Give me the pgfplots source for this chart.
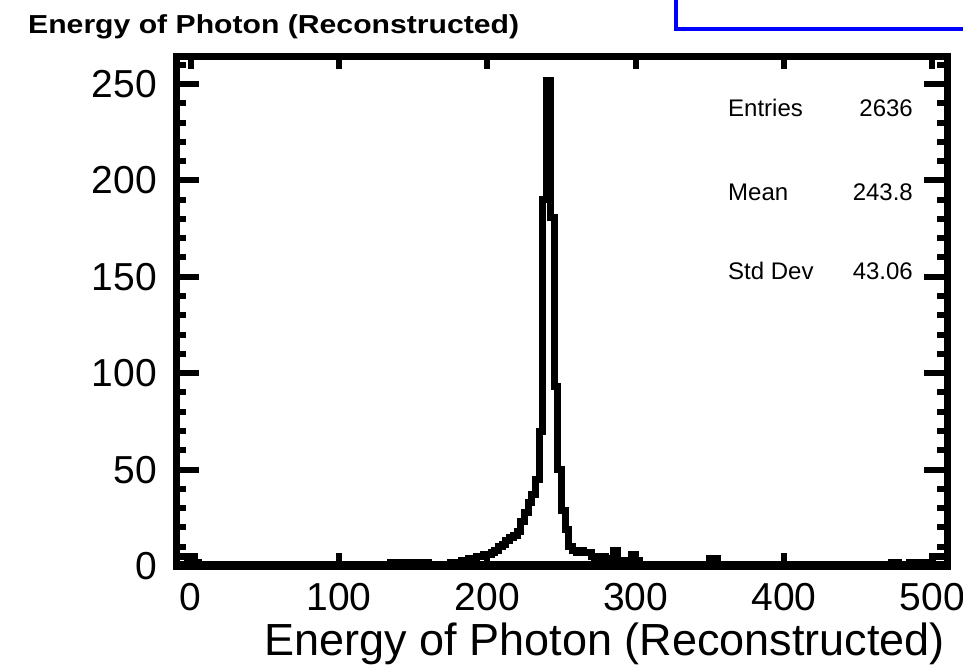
\documentclass[border=0pt]{standalone}
\usepackage{graphicx}
\usepackage{fontspec}
\setmainfont{Liberation Sans}
\usepackage{pgfplots}
\usepackage{pgfplotstable}
\pgfplotsset{compat=1.18}

\pgfplotstableread{
x y
-10 5
-7.5 5
-5 5
-2.5 2
0 5
2.5 2
5 0
7.5 0
10 0
12.5 0
15 0
17.5 0
20 0
22.5 0
25 0
27.5 0
30 0
32.5 0
35 0
37.5 0
40 0
42.5 1
45 0
47.5 0
50 0
52.5 0
55 0
57.5 0
60 0
62.5 0
65 0
67.5 0
70 0
72.5 0
75 0
77.5 0
80 0
82.5 0
85 0
87.5 1
90 0
92.5 0
95 0
97.5 0
100 0
102.5 0
105 0
107.5 0
110 0
112.5 0
115 0
117.5 0
120 1
122.5 0
125 0
127.5 0
130 1
132.5 1
135 2
137.5 2
140 2
142.5 2
145 2
147.5 2
150 1
152.5 2
155 2
157.5 2
160 1
162.5 1
165 0
167.5 1
170 1
172.5 1
175 2
177.5 2
180 2
182.5 3
185 3
187.5 4
190 4
192.5 5
195 5
197.5 6
200 6
202.5 7
205 8
207.5 10
210 11
212.5 13
215 15
217.5 16
220 18
222.5 23
225 28
227.5 33
230 37
232.5 45
235 70
237.5 190
240 252
242.5 181
245 93
247.5 50
250 29
252.5 19
255 10
257.5 8
260 7
262.5 8
265 7
267.5 7
270 5
272.5 4
275 5
277.5 5
280 4
282.5 4
285 8
287.5 3
290 3
292.5 2
295 3
297.5 6
300 3
302.5 1
305 1
307.5 0
310 1
312.5 0
315 1
317.5 0
320 0
322.5 1
325 0
327.5 0
330 0
332.5 1
335 0
337.5 0
340 0
342.5 0
345 0
347.5 1
350 4
352.5 4
355 1
357.5 0
360 0
362.5 0
365 1
367.5 0
370 0
372.5 0
375 0
377.5 0
380 1
382.5 0
385 0
387.5 0
390 0
392.5 0
395 0
397.5 0
400 1
402.5 0
405 0
407.5 0
410 0
412.5 0
415 0
417.5 1
420 0
422.5 0
425 0
427.5 0
430 0
432.5 0
435 0
437.5 1
440 0
442.5 0
445 0
447.5 0
450 0
452.5 0
455 1
457.5 0
460 0
462.5 0
465 0
467.5 1
470 0
472.5 2
475 2
477.5 0
480 1
482.5 0
485 2
487.5 2
490 2
492.5 2
495 2
497.5 2
500 5
502.5 5
505 5
507.5 5
510 5
}\histdata

\begin{document}
\begin{tikzpicture}[x=1pt,y=1pt]
\useasboundingbox (0pt,0pt) rectangle (963pt,-666pt);
\fill[white] (0pt,0pt) rectangle (963pt,-666pt);
% partial (blue) frame at the top right
\draw[blue, line width=3.5pt] (676pt,5pt) -- (676pt,-29pt) -- (975pt,-29pt);
% title
\node[anchor=base west, inner sep=0pt, font=\bfseries\fontsize{26}{26}\selectfont]
  at (28pt,-34pt) {\scalebox{1.16}[1]{Energy of Photon (Reconstructed)}};

\begin{axis}[
  at={(176pt,-566pt)}, anchor=south west,
  scale only axis, width=771pt, height=510pt,
  xmin=-10, xmax=510, ymin=0, ymax=264.5,
  axis line style={line width=7pt, black},
  xtick=\empty,
  ytick={0,50,...,250},
  minor ytick={10,20,...,260},
  tick align=inside,
  major tick length=23pt, minor tick length=10pt,
  tick style={line width=6pt, black},
  /pgf/number format/assume math mode=true,
  tick label style={font=\fontsize{39}{39}\selectfont},
  yticklabel style={anchor=east, inner sep=0pt, xshift=-19pt},
  xlabel={Energy of Photon (Reconstructed)},
  xlabel style={at={(rel axis cs:1,0)}, anchor=base east, inner sep=0pt,
    yshift=-89pt, xshift=-2pt, font=\fontsize{45}{45}\selectfont},
]
\addplot[const plot, black, line width=7pt, line join=miter] table[x=x, y=y] {\histdata};
\draw[line width=11pt, black] (rel axis cs:0,0) -- (rel axis cs:1,0);
\end{axis}

\begin{axis}[
  at={(176pt,-566pt)}, anchor=south west,
  scale only axis, width=771pt, height=510pt,
  xmin=-10, xmax=510, ymin=0, ymax=264.5,
  axis line style={draw=none},
  ytick=\empty,
  xtick={0,100,...,500},
  minor xtick={},
  tick align=inside,
  major tick length=13pt,
  tick style={line width=6pt, black},
  /pgf/number format/assume math mode=true,
  tick label style={font=\fontsize{39}{39}\selectfont},
  xticklabel style={anchor=north, inner sep=0pt, yshift=-17pt},
]
\end{axis}

% statistics
\begin{scope}[every node/.style={inner sep=0pt, font=\fontsize{24}{24}\selectfont}]
\node[anchor=base west] at (728pt,-117pt) {Entries};
\node[anchor=base east] at (913pt,-117pt) {2636};
\node[anchor=base west] at (728pt,-200pt) {Mean};
\node[anchor=base east] at (913pt,-200pt) {243.8};
\node[anchor=base west] at (728pt,-279pt) {Std Dev};
\node[anchor=base east] at (913pt,-279pt) {43.06};
\end{scope}
\end{tikzpicture}
\end{document}
